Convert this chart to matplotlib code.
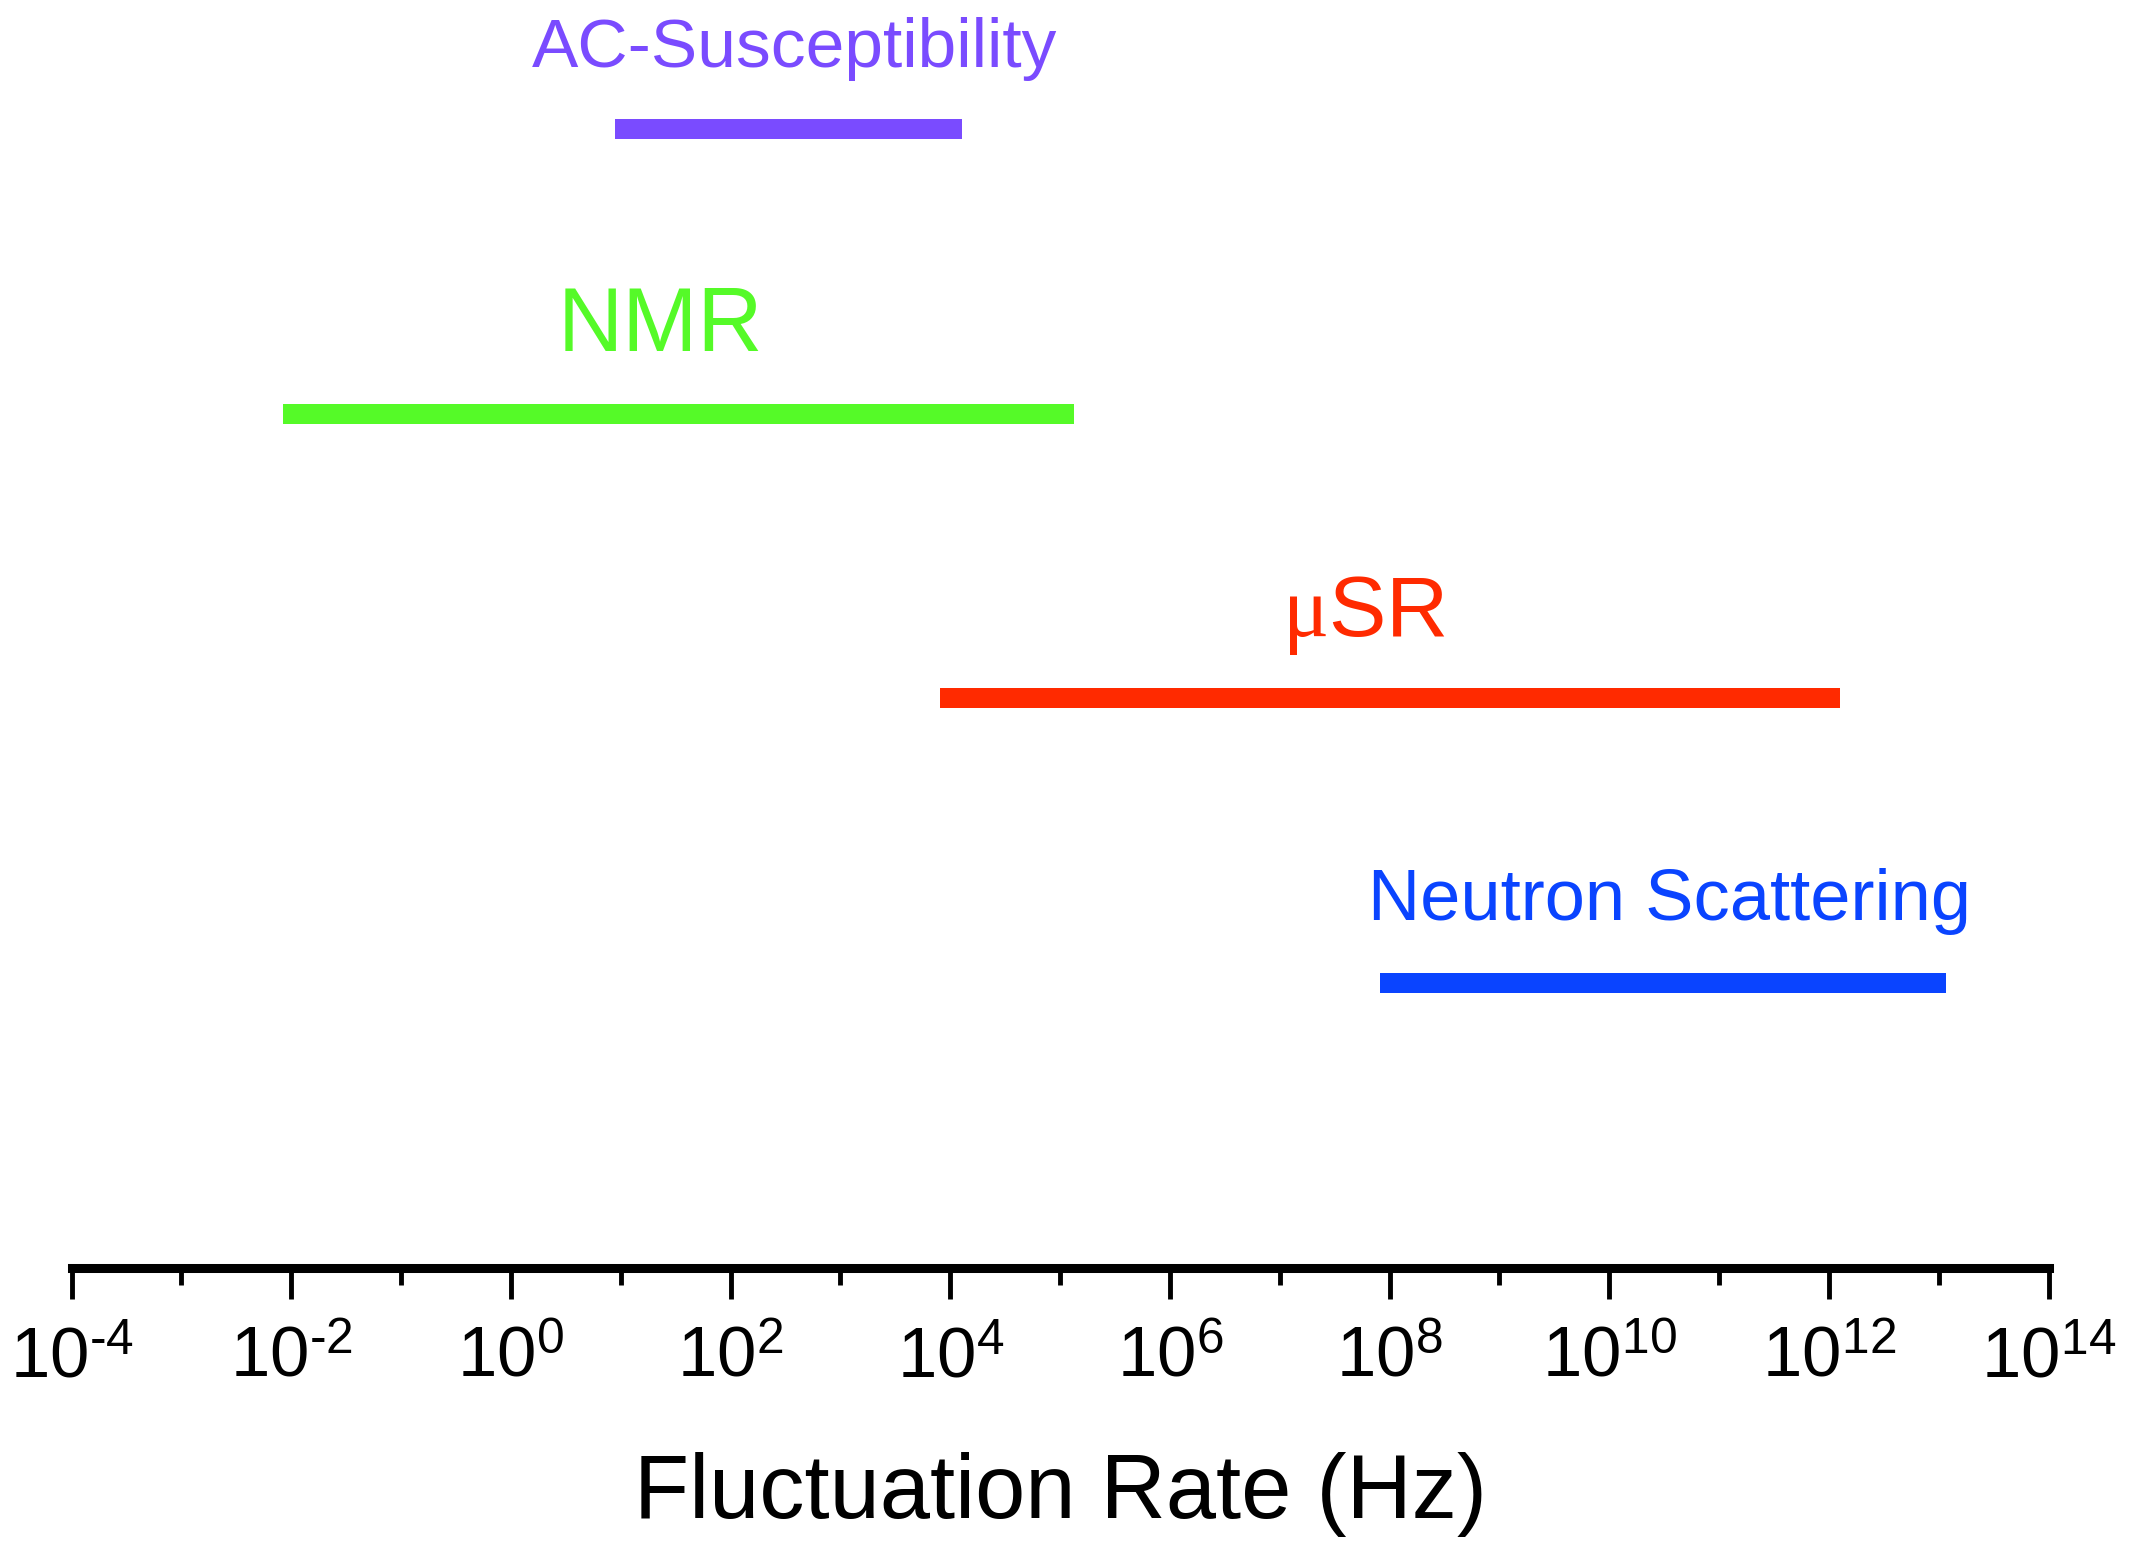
import numpy as np
import matplotlib
matplotlib.use('Agg')
import matplotlib.pyplot as plt
from matplotlib.ticker import FixedLocator, NullFormatter

plt.rcParams['font.family'] = ['Liberation Sans', 'DejaVu Sans']
plt.rcParams['mathtext.fontset'] = 'custom'
plt.rcParams['mathtext.rm'] = 'Liberation Sans'
plt.rcParams['mathtext.it'] = 'Liberation Serif'  # upright serif mu like the original

# techniques and the range of fluctuation rates they probe (log10 Hz)
techniques = ['AC-Susceptibility', 'NMR', r'$\mu$SR', 'Neutron Scattering']
log_start = [0.95, -2.08, 3.91, 7.91]
log_end = [4.11, 5.13, 12.10, 13.07]
rows = [4, 3, 2, 1]
colors = ['#7a4bff', '#55fa28', '#ff2a00', '#0a44ff']

# where the names sit (log10 Hz) and how big they are
label_pos = [2.58, 1.36, 7.77, 10.55]
label_size = [50, 65, 62, 52]

major_exp = [-4, -2, 0, 2, 4, 6, 8, 10, 12, 14]
minor_exp = [-3, -1, 1, 3, 5, 7, 9, 11, 13]

fig = plt.figure(figsize=(21.32, 15.41), dpi=100)
ax = fig.add_axes([0.0336, 0.1774, 0.9273, 0.8226])

ax.set_xscale('log')
ax.hlines(rows, 10.0 ** np.array(log_start), 10.0 ** np.array(log_end),
          colors=colors, linewidth=14.4, capstyle='butt')

for name, x, y, c, s in zip(techniques, label_pos, rows, colors, label_size):
    ax.text(10.0 ** x, y + 0.22, name, color=c, fontsize=s, ha='center', va='baseline')

ax.set_xlim(1e-4, 1e14)
ax.set_ylim(0, 4.454)

# axis look: only a thick bottom line with down ticks
for side in ['left', 'top', 'right']:
    ax.spines[side].set_visible(False)
ax.spines['bottom'].set_linewidth(6.5)
ax.yaxis.set_visible(False)

ax.xaxis.set_major_locator(FixedLocator([10.0 ** e for e in major_exp]))
ax.xaxis.set_minor_locator(FixedLocator([10.0 ** e for e in minor_exp]))
ax.xaxis.set_minor_formatter(NullFormatter())
ax.set_xticklabels([r'$10^{\text{%d}}$' % e for e in major_exp])
ax.tick_params(axis='x', which='major', direction='out', length=22, width=3.5,
               labelsize=51, pad=20)
ax.tick_params(axis='x', which='minor', direction='out', length=12, width=3.5)

ax.set_xlabel('Fluctuation Rate (Hz)', fontsize=65, labelpad=43)

fig.savefig('out.png', dpi=100)
